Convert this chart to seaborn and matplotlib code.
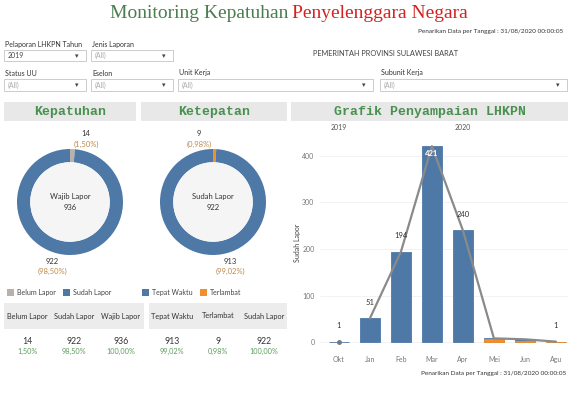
import numpy as np
import pandas as pd
import matplotlib
matplotlib.use('Agg')
import matplotlib.pyplot as plt
import seaborn as sns
from matplotlib.patches import Rectangle, Circle

# data
months = ['Okt', 'Jan', 'Feb', 'Mar', 'Apr', 'Mei', 'Jun', 'Agu']
tepat_waktu = [1, 51, 194, 421, 240, 2, 4, 0]
terlambat = [0, 0, 0, 0, 0, 6, 2, 1]
year_labels = ['2019', '2020']

kep_labels = ['Belum Lapor', 'Sudah Lapor', 'Wajib Lapor']
kep_values = [14, 922, 936]
ket_labels = ['Tepat Waktu', 'Terlambat', 'Sudah Lapor']
ket_values = [913, 9, 922]

BLUE = '#4e79a7'
ORANGE = '#f28e2b'
GREY = '#bab0ac'
HEAD_GREEN = '#4a9150'
PCT_BROWN = '#c0894e'

sns.set_theme(style='white')
plt.rcParams['font.family'] = ['Lato', 'DejaVu Sans']

W, H = 579, 398
fig = plt.figure(figsize=(W / 100, H / 100), dpi=100)


def fr(x0, y0, x1, y1):
    return [x0 / W, 1 - y1 / H, (x1 - x0) / W, (y1 - y0) / H]


def ft(x, y, s, **kw):
    kw.setdefault('ha', 'center')
    kw.setdefault('va', 'center')
    fig.text(x / W, 1 - y / H, s, **kw)


def frect(x0, y0, x1, y1, **kw):
    fig.patches.append(Rectangle((x0 / W, 1 - y1 / H), (x1 - x0) / W, (y1 - y0) / H,
                                 transform=fig.transFigure, **kw))


def pct(v, tot):
    return ('%.2f%%' % (100.0 * v / tot)).replace('.', ',')


# title
ft(288, 13, 'Monitoring Kepatuhan', ha='right', color='#4a7d4f', fontsize=14,
   family='Liberation Serif')
ft(292, 13, 'Penyelenggara Negara', ha='left', color='#d42121', fontsize=14,
   family='Liberation Serif')
ft(563, 32, 'Penarikan Data per Tanggal : 31/08/2020 00:00:05', ha='right', fontsize=4.6, color='#333')
ft(386, 53, 'PEMERINTAH PROVINSI SULAWESI BARAT', fontsize=5.3, color='#444')


# filters
def dropdown(x0, x1, yl, yb0, yb1, label, val, valcol='#aaa'):
    ft(x0 + 1, yl, label, ha='left', fontsize=5, color='#333')
    frect(x0, yb0, x1, yb1, facecolor='white', edgecolor='#cccccc', lw=0.7)
    ft(x0 + 4, (yb0 + yb1) / 2, val, ha='left', fontsize=5, color=valcol)
    ft(x1 - 9, (yb0 + yb1) / 2, '\u25be', fontsize=5, color='#444')


dropdown(4, 86, 44, 50, 61, 'Pelaporan LHKPN Tahun', '2019', '#444')
dropdown(91, 173, 44, 50, 61, 'Jenis Laporan', '(All)')
dropdown(4, 86, 73, 79, 91, 'Status UU', '(All)')
dropdown(91, 173, 73, 79, 91, 'Eselon', '(All)')
dropdown(178, 373, 73, 79, 91, 'Unit Kerja', '(All)')
dropdown(380, 567, 73, 79, 91, 'Subunit Kerja', '(All)')

# section headers
for x0, x1, name in [(4, 136, 'Kepatuhan'), (141, 287, 'Ketepatan'), (291, 568, 'Grafik Penyampaian LHKPN')]:
    frect(x0, 102, x1, 121, facecolor='#e8e8e8', edgecolor='none')
    ft((x0 + x1) / 2, 111.5, name, fontsize=9.5, color=HEAD_GREEN, family='Liberation Mono',
       weight='bold')


# donuts
def donut(cx, cy, r, vals, cols, center_lbl, center_val):
    ax = fig.add_axes(fr(cx - r, cy - r, cx + r, cy + r))
    ax.pie(vals, colors=cols, startangle=90, counterclock=False, radius=1,
           wedgeprops=dict(width=0.25, edgecolor='none'))
    ax.add_patch(Circle((0, 0), 0.75, facecolor='#f5f5f5', edgecolor='none'))
    ax.set_xlim(-1, 1)
    ax.set_ylim(-1, 1)
    ax.set_aspect('equal')
    ax.axis('off')
    ft(cx, cy - 5, center_lbl, fontsize=5.5, color='#333')
    ft(cx, cy + 5, str(center_val), fontsize=5.5, color='#333')


donut(70, 202, 53, [kep_values[0], kep_values[1]], [GREY, BLUE], 'Wajib Lapor', kep_values[2])
donut(213, 202, 53, [ket_values[1], ket_values[0]], [ORANGE, BLUE], 'Sudah Lapor', ket_values[2])

ft(86, 134, str(kep_values[0]), fontsize=5.5, color='#333')
ft(86, 144, '(' + pct(kep_values[0], kep_values[2]) + ')', fontsize=5.5, color=PCT_BROWN)
ft(52, 262, str(kep_values[1]), fontsize=5.5, color='#333')
ft(52, 271, '(' + pct(kep_values[1], kep_values[2]) + ')', fontsize=5.5, color=PCT_BROWN)
ft(199, 134, str(ket_values[1]), fontsize=5.5, color='#333')
ft(199, 144, '(' + pct(ket_values[1], ket_values[2]) + ')', fontsize=5.5, color=PCT_BROWN)
ft(230, 262, str(ket_values[0]), fontsize=5.5, color='#333')
ft(230, 271, '(' + pct(ket_values[0], ket_values[2]) + ')', fontsize=5.5, color=PCT_BROWN)

# legends
for x0, col, lbl in [(7, GREY, 'Belum Lapor'), (63, BLUE, 'Sudah Lapor'),
                     (142, BLUE, 'Tepat Waktu'), (200, ORANGE, 'Terlambat')]:
    frect(x0, 289, x0 + 7, 296, facecolor=col, edgecolor='none')
    ft(x0 + 10, 292.5, lbl, ha='left', fontsize=5, color='#444')


# tables
def table(x0, x1, labels, values, tot):
    frect(x0, 303, x1, 329, facecolor='#ececec', edgecolor='none')
    cw = (x1 - x0) / 3
    for i, (lb, v) in enumerate(zip(labels, values)):
        cx = x0 + cw * (i + 0.5)
        ft(cx, 316, lb, fontsize=5.3, color='#333')
        ft(cx, 342, str(v), fontsize=6.3, color='#333')
        ft(cx, 351, pct(v, tot), fontsize=5.3, color='#5e9c5e')


table(4, 144, kep_labels, kep_values, kep_values[2])
table(149, 287, ket_labels, ket_values, ket_values[2])

# bar chart
totals = [a + b for a, b in zip(tepat_waktu, terlambat)]
df = pd.DataFrame({'Bulan': months, 'Total': totals, 'Terlambat': terlambat})
late = df[df['Terlambat'] > 0]

ax = fig.add_axes(fr(320, 135, 568, 350))
sns.barplot(data=df, x='Bulan', y='Total', order=months, color=BLUE, saturation=1, width=0.63,
            edgecolor=BLUE, linewidth=0.6, ax=ax)
sns.barplot(data=late, x='Bulan', y='Terlambat', order=months, color=ORANGE, saturation=1,
            width=0.63, edgecolor=ORANGE, linewidth=0.6, ax=ax)
idx = np.arange(len(months))
ax.plot(idx[1:], totals[1:], color='#8a8a8a', lw=1.6, zorder=5)
ax.plot(idx[:1], totals[:1], color='#777777', marker='o', ms=2.5, lw=0, zorder=5)

ax.set_xlim(-0.61, 7.39)
ax.set_ylim(-17, 445)
ax.set_yticks([0, 100, 200, 300, 400])
ax.grid(axis='y', color='#f0f0f0', lw=0.6)
ax.set_axisbelow(True)
for s in ax.spines.values():
    s.set_visible(False)
ax.tick_params(axis='both', length=0, labelsize=5, labelcolor='#777', pad=4)
ax.set_xlabel('')
ax.set_ylabel('Sudah Lapor', fontsize=5, color='#444', labelpad=1)

for i, t in enumerate(totals):
    if months[i] == 'Mar':
        ax.annotate(str(t), (i, t), xytext=(0, -5.5), textcoords='offset points', zorder=6,
                    ha='center', va='center', fontsize=5.5, color='white', weight='bold')
    elif months[i] in ('Mei', 'Jun'):
        continue
    else:
        ax.annotate(str(t), (i, t), xytext=(0, 11.5), textcoords='offset points', zorder=6,
                    ha='center', va='center', fontsize=5.5, color='#333')

xt = ax.get_xaxis_transform()
ax.text(0, 1.033, year_labels[0], transform=xt, ha='center', va='center', fontsize=5, color='#555')
ax.text(4, 1.033, year_labels[1], transform=xt, ha='center', va='center', fontsize=5, color='#555')

ft(566, 373, 'Penarikan Data per Tanggal : 31/08/2020 00:00:05', ha='right', fontsize=4.6, color='#333')

fig.savefig('out.png', dpi=100, facecolor='white')
